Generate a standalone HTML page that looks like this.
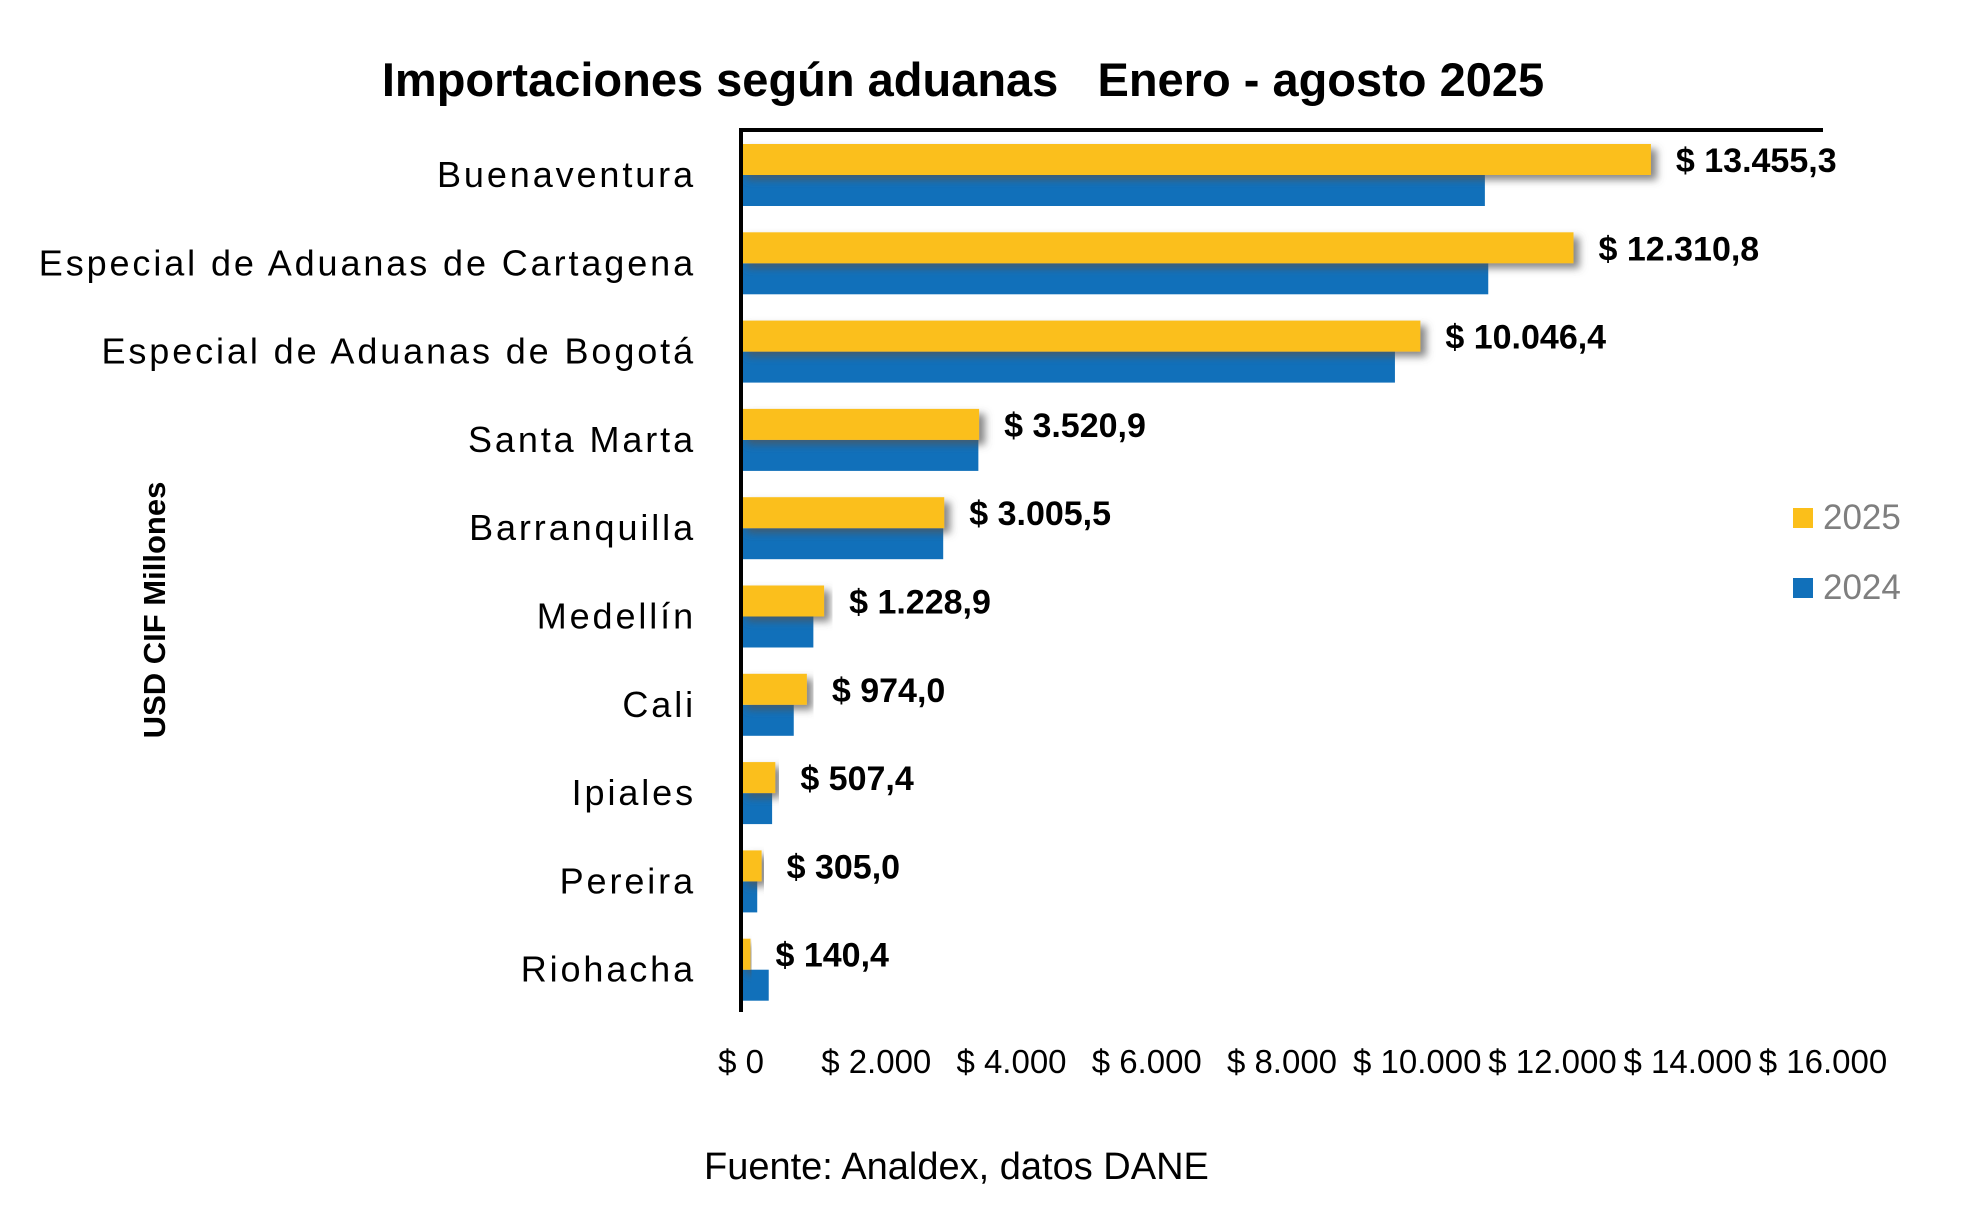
<!DOCTYPE html>
<html><head><meta charset="utf-8"><style>
html,body{margin:0;padding:0;background:#fff;}
svg{display:block;font-family:"Liberation Sans",sans-serif;}
</style></head><body>
<svg id="chart" width="1962" height="1226" viewBox="0 0 1962 1226">
<defs>
<filter id="sh" x="-5%" y="-30%" width="115%" height="180%">
<feDropShadow dx="6" dy="5" stdDeviation="4" flood-color="#555" flood-opacity="0.7"/>
</filter>
</defs>
<text x="963" y="96" text-anchor="middle" font-size="47" font-weight="bold" fill="#000" xml:space="preserve">Importaciones según aduanas   Enero - agosto 2025</text>
<text transform="translate(165,610) rotate(-90)" text-anchor="middle" font-size="31" font-weight="bold" fill="#000">USD CIF Millones</text>
<g id="bars"></g>
<line x1="741" y1="130" x2="1823" y2="130" stroke="#000" stroke-width="4"/>
<line x1="741" y1="128" x2="741" y2="1012" stroke="#000" stroke-width="4"/>
<g id="ticks"></g>
<rect x="1793" y="508" width="20" height="20" fill="#FBBF1A"/>
<text x="1823" y="529" font-size="35" fill="#7f7f7f">2025</text>
<rect x="1793" y="578" width="20" height="20" fill="#1170BA"/>
<text x="1823" y="599" font-size="35" fill="#7f7f7f">2024</text>
<text x="704" y="1179" font-size="38" fill="#000">Fuente: Analdex, datos DANE</text>
</svg>
<script>
const categories = ["Buenaventura","Especial de Aduanas de Cartagena","Especial de Aduanas de Bogotá","Santa Marta","Barranquilla","Medellín","Cali","Ipiales","Pereira","Riohacha"];
const values2025 = [13455.3,12310.8,10046.4,3520.9,3005.5,1228.9,974.0,507.4,305.0,140.4];
const values2024 = [11000,11050,9670,3510,2990,1070,780,460,240,410];
const labels2025 = ["$ 13.455,3","$ 12.310,8","$ 10.046,4","$ 3.520,9","$ 3.005,5","$ 1.228,9","$ 974,0","$ 507,4","$ 305,0","$ 140,4"];
const tickValues = [0,2000,4000,6000,8000,10000,12000,14000,16000];
const tickLabels = ["$ 0","$ 2.000","$ 4.000","$ 6.000","$ 8.000","$ 10.000","$ 12.000","$ 14.000","$ 16.000"];

const NS = "http://www.w3.org/2000/svg";
const x = v => 741 + v / 16000 * (1823 - 741);
const rowC = i => 175 + i * 88.3;
const BH = 31;
const gb = document.getElementById('bars');
const gt = document.getElementById('ticks');
function mk(tag, attrs, parent){const e=document.createElementNS(NS,tag);for(const k in attrs)e.setAttribute(k,attrs[k]);parent.appendChild(e);return e;}
categories.forEach((c,i)=>{
  const cy = rowC(i);
  const t = mk('text',{x:696,y:cy+12,'text-anchor':'end','font-size':36,'letter-spacing':2.9,fill:'#000'},gb);
  t.textContent = c;
  
  
  const b2 = mk('rect',{x:741,y:cy,width:x(values2024[i])-741,height:BH,fill:'#1170BA'},gb);
  
  
  const b1 = mk('rect',{x:741,y:cy-BH,width:x(values2025[i])-741,height:BH,fill:'#FBBF1A',filter:'url(#sh)'},gb);
  
  
  const l = mk('text',{x:x(values2025[i])+25,y:cy-3,'font-size':34,'font-weight':'bold',fill:'#000'},gb);
  l.textContent = labels2025[i];
  
  
});
tickValues.forEach((v,i)=>{
  const t = mk('text',{x:x(v),y:1073,'text-anchor':'middle','font-size':33,fill:'#000'},gt);
  t.textContent = tickLabels[i];
  
  
});
</script>
</body></html>
